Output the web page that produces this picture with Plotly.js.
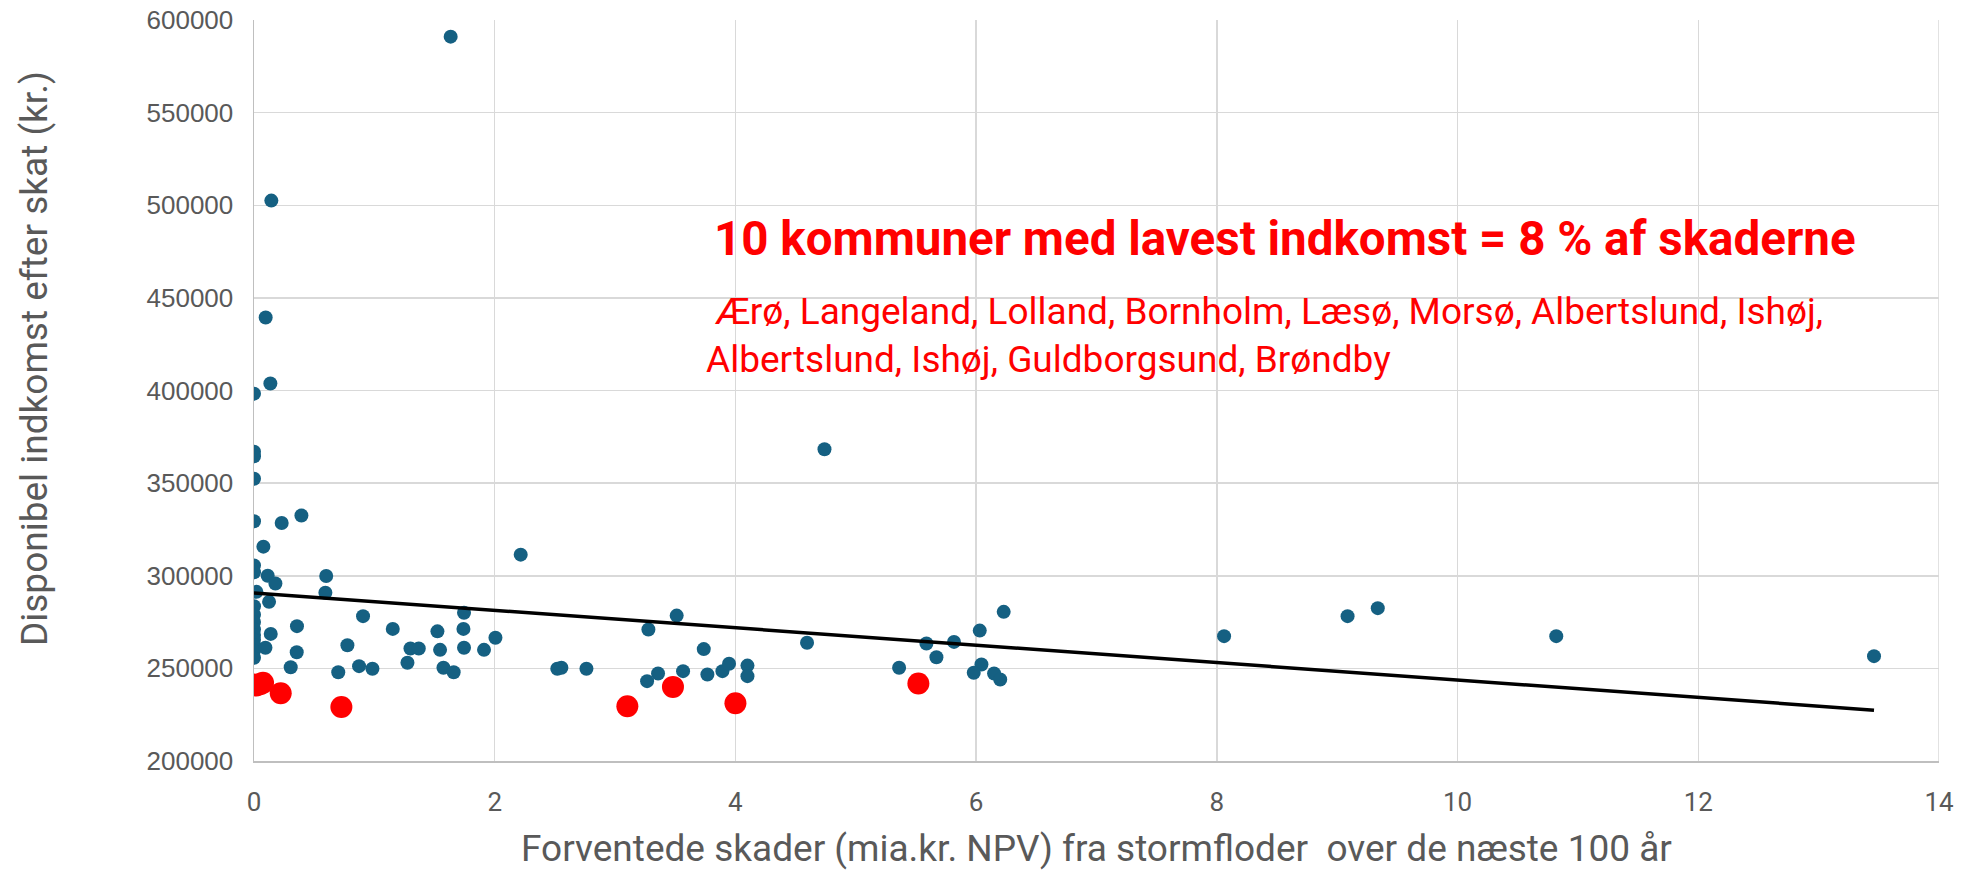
<!DOCTYPE html>
<html>
<head>
<meta charset="utf-8">
<script src="https://cdn.plot.ly/plotly-3.0.1.min.js"></script>
<style>html,body{margin:0;padding:0;background:#fff;} #chart{width:1969px;height:870px;}</style>
</head>
<body>
<div id="chart"></div>
<script>
// Blue points: all municipalities
const skaderX = [0,0,0,0,0,0.23,0.394,0.078,0,0,0.114,0.178,0.6,0.593,2.216,0.097,0.136,0.144,1.634,4.74,
  0.02,0.125,0,0,0,0,0,0,0,0,0,0.139,0.095,0.357,0.355,0.305,0.906,0.776,0.70,0.873,0.984,1.153,1.275,1.30,1.369,
  1.524,1.546,1.574,1.659,1.745,1.74,1.745,1.911,2.006,2.52,2.554,2.762,3.277,3.512,3.266,3.357,3.565,3.737,3.767,
  3.892,3.947,4.1,4.1,4.595,5.36,5.587,5.67,5.816,6.03,6.044,5.98,6.149,6.2,6.229,8.06,9.086,9.337,10.82,13.46];
const indkomstY = [398300,367000,364500,352400,329400,328500,332500,315700,305500,301900,300000,295800,299900,290800,311400,439400,403800,502500,591000,368300,
  291300,285900,283500,279000,275000,271000,268000,265500,262500,259500,255700,268600,261100,272800,258700,250600,278200,262500,247900,251200,249800,271300,253000,260700,260700,
  270000,260000,250300,247900,280000,271300,261100,260000,266500,249800,250300,249800,271000,278500,243100,247200,248500,260400,246700,
  248500,252500,251500,245800,263800,250300,263400,256000,264300,270400,252100,247600,247200,244000,280500,267400,278200,282500,267400,256600];
// Red points: 10 municipalities with lowest income
const lavX = [0,0.02,0.05,0.075,0.222,0.726,3.102,3.481,4.0,5.52];
const lavY = [241300,240800,241500,242200,236600,229100,229600,240000,231200,241800];
// Linear trendline endpoints
const trendX = [0,13.46];
const trendY = [290750,227440];
const xTicks = [0,2,4,6,8,10,12,14];
const yTicks = [200000,250000,300000,350000,400000,450000,500000,550000,600000];

const xTitle = 'Forventede skader (mia.kr. NPV) fra stormfloder  over de næste 100 år';
const yTitle = 'Disponibel indkomst efter skat (kr.)';
const headline = "10 kommuner med lavest indkomst = 8 % af skaderne";
const namesLine1 = " Ærø, Langeland, Lolland, Bornholm, Læsø, Morsø, Albertslund, Ishøj,";
const namesLine2 = "Albertslund, Ishøj, Guldborgsund, Brøndby";

const traces = [
  {x: skaderX, y: indkomstY, type:'scatter', mode:'markers',
   marker:{color:'#156082', size:14}},
  {x: lavX, y: lavY, type:'scatter', mode:'markers',
   marker:{color:'#FF0000', size:22}},
  {x: trendX, y: trendY, type:'scatter', mode:'lines',
   line:{color:'#000000', width:3.5}}
];

const W = 1969, H = 870, L = 254, R = 30, T = 20, B = 109;
const pw = W - L - R, ph = H - T - B;
const px = v => (v - L) / pw;      // pixel -> paper x
const py = v => 1 - (v - T) / ph;  // pixel -> paper y

const layout = {
  width:W, height:H,
  margin:{l:L, r:R, t:T, b:B},
  paper_bgcolor:'#ffffff', plot_bgcolor:'#ffffff',
  showlegend:false,
  xaxis:{range:[0,14], tickvals:xTicks, ticktext:xTicks.map(String),
    showgrid:true, gridcolor:'#d9d9d9', gridwidth:1.5, zeroline:false,
    showline:true, linecolor:'#bfbfbf', linewidth:1.5, mirror:false,
    ticks:'', ticklabelstandoff:17,
    tickfont:{family:'Roboto, sans-serif', size:26, color:'#595959'}},
  yaxis:{range:[200000,600000], tickvals:yTicks, ticktext:yTicks.map(String),
    showgrid:true, gridcolor:'#d9d9d9', gridwidth:1.5, zeroline:false,
    showline:true, linecolor:'#bfbfbf', linewidth:1.5,
    ticks:'', ticklabelstandoff:14,
    tickfont:{family:'Liberation Sans, Arial, sans-serif', size:26, color:'#595959'}},
  shapes:[
    {type:'line', xref:'x', yref:'y', x0:14, x1:14, y0:200000, y1:600000, line:{color:'#d9d9d9', width:1.5}}
  ],
  annotations:[
    {text:xTitle, xref:'paper', yref:'paper', x:px(1096), y:py(848), xanchor:'center', yanchor:'middle',
     showarrow:false, font:{family:'Roboto, sans-serif', size:37, color:'#595959'}},
    {text:yTitle, xref:'paper', yref:'paper', x:px(34), y:py(358), xanchor:'center', yanchor:'middle', textangle:-90,
     showarrow:false, font:{family:'Roboto, sans-serif', size:37, color:'#595959'}},
    {text:headline, xref:'paper', yref:'paper', x:px(712), y:py(239), xanchor:'left', yanchor:'middle',
     showarrow:false, font:{family:'Roboto, sans-serif', size:47.5, color:'#FF0000', weight:'bold'}},
    {text:namesLine1, xref:'paper', yref:'paper', x:px(704), y:py(312), xanchor:'left', yanchor:'middle',
     showarrow:false, font:{family:'Roboto, sans-serif', size:37, color:'#FF0000'}},
    {text:namesLine2, xref:'paper', yref:'paper', x:px(704), y:py(359), xanchor:'left', yanchor:'middle',
     showarrow:false, font:{family:'Roboto, sans-serif', size:37, color:'#FF0000'}}
  ]
};
Plotly.newPlot('chart', traces, layout, {displayModeBar:false, staticPlot:true});
</script>
</body>
</html>
